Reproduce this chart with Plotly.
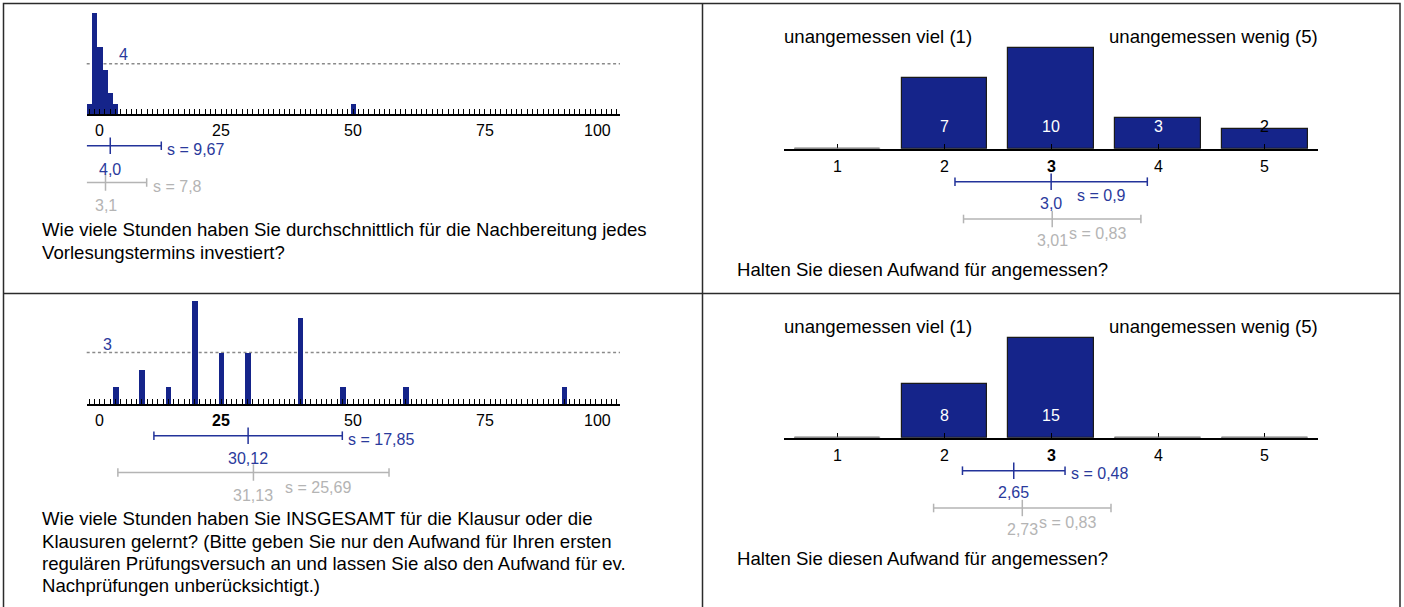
import plotly.graph_objects as go

W, H = 1404, 607

# ---------------- data ----------------
# Panel 1: hours per lecture (histogram)
p1_hours = [0, 1, 2, 3, 4, 5, 50]
p1_counts = [0.8, 8.0, 5.3, 3.5, 1.7, 0.8, 0.8]
p1_ref = 4
p1_mean, p1_sd, p1_mean_lbl, p1_sd_lbl = 4.0, 9.67, "4,0", "s = 9,67"
p1_cmean, p1_csd, p1_cmean_lbl, p1_csd_lbl = 3.1, 7.8, "3,1", "s = 7,8"
p1_question = ["Wie viele Stunden haben Sie durchschnittlich für die Nachbereitung jedes",
               "Vorlesungstermins investiert?"]

# Panel 3: total hours for exam (histogram)
p3_hours = [5, 10, 15, 20, 25, 30, 40, 48, 60, 90]
p3_counts = [1, 2, 1, 6, 3, 3, 5, 1, 1, 1]
p3_ref = 3
p3_mean, p3_sd, p3_mean_lbl, p3_sd_lbl = 30.12, 17.85, "30,12", "s = 17,85"
p3_cmean, p3_csd, p3_cmean_lbl, p3_csd_lbl = 31.13, 25.69, "31,13", "s = 25,69"
p3_question = ["Wie viele Stunden haben Sie INSGESAMT für die Klausur oder die",
               "Klausuren gelernt? (Bitte geben Sie nur den Aufwand für Ihren ersten",
               "regulären Prüfungsversuch an und lassen Sie also den Aufwand für ev.",
               "Nachprüfungen unberücksichtigt.)"]

hist_ticks = [0, 25, 50, 75, 100]
p1_bold_tick = None
p3_bold_tick = 25

# Panels 2 & 4: rating scale
scale_cats = [1, 2, 3, 4, 5]
scale_left = "unangemessen viel (1)"
scale_right = "unangemessen wenig (5)"
p2_counts = [0, 7, 10, 3, 2]
p2_mean, p2_sd, p2_mean_lbl, p2_sd_lbl = 3.0, 0.9, "3,0", "s = 0,9"
p2_cmean, p2_csd, p2_cmean_lbl, p2_csd_lbl = 3.01, 0.83, "3,01", "s = 0,83"
p4_counts = [0, 8, 15, 0, 0]
p4_mean, p4_sd, p4_mean_lbl, p4_sd_lbl = 2.65, 0.48, "2,65", "s = 0,48"
p4_cmean, p4_csd, p4_cmean_lbl, p4_csd_lbl = 2.73, 0.83, "2,73", "s = 0,83"
scale_bold_tick = 3
scale_question = "Halten Sie diesen Aufwand für angemessen?"

# ---------------- style ----------------
NAVY = "#15248a"
BLUE = "#2a3a9c"
GREY = "#b4b4b4"
FONT = "Liberation Sans, Arial, sans-serif"
FS_Q = 18.6
FS_S = 16


def px(x):
    return x / W


def py(y):
    return 1 - y / H


fig = go.Figure()
shapes = []
annos = []


def text(x, y, s, size=FS_S, color="black", xanchor="left", xref="paper", xshift=0):
    annos.append(dict(x=x if xref != "paper" else px(x), y=py(y), xref=xref, yref="paper",
                      text=s, showarrow=False, xanchor=xanchor, yanchor="middle",
                      xshift=xshift, font=dict(family=FONT, size=size, color=color)))


def sd_bar(xref, mean, sd, ly, color, rng, cap=4.3, tick=8.2):
    x0 = max(mean - sd, rng[0])
    x1 = min(mean + sd, rng[1])
    line = dict(color=color, width=1.5)
    shapes.append(dict(type="line", xref=xref, yref="paper", x0=x0, x1=x1,
                       y0=py(ly), y1=py(ly), line=line))
    if mean - sd >= rng[0]:
        shapes.append(dict(type="line", xref=xref, yref="paper", x0=x0, x1=x0,
                           y0=py(ly - cap), y1=py(ly + cap), line=line))
    if mean + sd <= rng[1]:
        shapes.append(dict(type="line", xref=xref, yref="paper", x0=x1, x1=x1,
                           y0=py(ly - cap), y1=py(ly + cap), line=line))
    shapes.append(dict(type="line", xref=xref, yref="paper", x0=mean, x1=mean,
                       y0=py(ly - tick), y1=py(ly + tick), line=line))


# geometry for histograms
H_X0, H_X1 = 86.7, 620.0
H_ZERO, H_UNIT = 89.15, 5.2775
h_range = [(H_X0 - H_ZERO) / H_UNIT, (H_X1 - H_ZERO) / H_UNIT]
# geometry for scales
S_X0, S_X1 = 784.0, 1318.3
s_range = [0.5, 5.5]


def hist_panel(idx, hours, counts, ref, base, unit, top, bar_w, ref_lbl_x, ref_lbl_y,
               tick_y, bold, mean, sd, mlbl, slbl, cmean, csd, cmlbl, cslbl,
               cs_below_shift, question, q_y):
    xa = "xaxis" + ("" if idx == 1 else str(idx))
    ya = "yaxis" + ("" if idx == 1 else str(idx))
    xr = "x" + ("" if idx == 1 else str(idx))
    yr = "y" + ("" if idx == 1 else str(idx))
    fig.add_trace(go.Bar(x=hours, y=counts, width=bar_w, marker=dict(color=NAVY, line=dict(width=0)),
                         xaxis=xr, yaxis=yr, showlegend=False, hoverinfo="skip"))
    fig.update_layout({
        xa: dict(domain=[px(H_X0), px(H_X1)], range=h_range, anchor=yr, showline=True,
                 linecolor="black", linewidth=1.8, ticks="inside", tick0=0, dtick=1,
                 ticklen=5, tickwidth=1.4, tickcolor="black", showticklabels=False,
                 showgrid=False, zeroline=False, fixedrange=True),
        ya: dict(domain=[py(base), py(top)], range=[0, (base - top) / unit], anchor=xr,
                 visible=False, fixedrange=True),
    })
    shapes.append(dict(type="line", xref=xr + " domain", yref=yr, x0=0, x1=1, y0=ref, y1=ref,
                       line=dict(color="#8a8a8a", width=1.5, dash="3px,2.6px"), layer="below"))
    text(ref_lbl_x, ref_lbl_y, str(ref), color=BLUE)
    for t in hist_ticks:
        lbl = "<b>%d</b>" % t if t == bold else str(t)
        if t == hist_ticks[0]:
            text(t, tick_y, lbl, xref=xr, xanchor="left", xshift=4)
        elif t == hist_ticks[-1]:
            text(t, tick_y, lbl, xref=xr, xanchor="right", xshift=-3.5)
        else:
            text(t, tick_y, lbl, xref=xr, xanchor="center")
    ly = base + 31.7
    sd_bar(xr, mean, sd, ly, "#23339a", h_range)
    text(mean, ly + 23.3, mlbl, color=BLUE, xref=xr, xanchor="center")
    text(mean + sd, ly + 3.3, slbl, color=BLUE, xref=xr, xanchor="left", xshift=3.5)
    gy = base + 68.5
    sd_bar(xr, cmean, csd, gy, GREY, h_range)
    text(cmean, gy + 22.8, cmlbl, color=GREY, xref=xr, xanchor="center")
    if cs_below_shift is None:
        text(cmean + csd, gy + 3.8, cslbl, color=GREY, xref=xr, xanchor="left", xshift=4)
    else:
        text(cmean, gy + 15.2, cslbl, color=GREY, xref=xr, xanchor="left", xshift=cs_below_shift)
    for i, line in enumerate(question):
        text(40, q_y + i * 22.3, line, size=FS_Q)


def scale_panel(idx, counts, base, unit, top, head_y, tick_y, mean, sd, mlbl, slbl,
                s_right, s_shift, s_dy, cmean, csd, cmlbl, cslbl, cs_shift, q_y):
    xa = "xaxis" + str(idx)
    ya = "yaxis" + str(idx)
    xr = "x" + str(idx)
    yr = "y" + str(idx)
    fig.add_trace(go.Bar(x=scale_cats, y=counts, width=0.8,
                         marker=dict(color=NAVY, line=dict(color="#1a1a1a", width=1.2)),
                         xaxis=xr, yaxis=yr, showlegend=False, hoverinfo="skip"))
    fig.update_layout({
        xa: dict(domain=[px(S_X0), px(S_X1)], range=s_range, anchor=yr, showline=True,
                 linecolor="black", linewidth=1.8, ticks="inside", tickvals=scale_cats,
                 ticklen=5, tickwidth=1.2, tickcolor="black", showticklabels=False,
                 showgrid=False, zeroline=False, fixedrange=True),
        ya: dict(domain=[py(base), py(top)], range=[0, (base - top) / unit], anchor=xr,
                 visible=False, fixedrange=True),
    })
    for c, n in zip(scale_cats, counts):
        if n == 0:
            shapes.append(dict(type="line", xref=xr, yref=yr, x0=c - 0.4, x1=c + 0.4, y0=0, y1=0,
                               line=dict(color="#a0a0a0", width=2)))
        col = "white" if n * unit > 25 else "black"
        if n > 0:
            text(c, base - 22.7, str(n), color=col, xref=xr, xanchor="center")
        lbl = "<b>%d</b>" % c if c == scale_bold_tick else str(c)
        text(c, tick_y, lbl, xref=xr, xanchor="center")
    text(782, head_y, scale_left, size=FS_Q)
    text(S_X1 + 1.5, head_y, scale_right, size=FS_Q, xanchor="right")
    ly = base + 33
    sd_bar(xr, mean, sd, ly, "#23339a", s_range)
    text(mean, ly + 22, mlbl, color=BLUE, xref=xr, xanchor="center")
    if s_right:
        text(mean + sd, ly + s_dy, slbl, color=BLUE, xref=xr, xanchor="left", xshift=3.5)
    else:
        text(mean, ly + s_dy, slbl, color=BLUE, xref=xr, xanchor="left", xshift=s_shift)
    gy = base + 70.3
    sd_bar(xr, cmean, csd, gy, GREY, s_range)
    text(cmean, gy + 21.5, cmlbl, color=GREY, xref=xr, xanchor="center")
    text(cmean, gy + 14.2, cslbl, color=GREY, xref=xr, xanchor="left", xshift=cs_shift)
    text(735, q_y, scale_question, size=FS_Q)


hist_panel(1, p1_hours, p1_counts, p1_ref, 114.0, 12.575, 10.0, 0.97, 116.7, 54.5,
           131.0, p1_bold_tick, p1_mean, p1_sd, p1_mean_lbl, p1_sd_lbl,
           p1_cmean, p1_csd, p1_cmean_lbl, p1_csd_lbl, None, p1_question, 230.0)
hist_panel(3, p3_hours, p3_counts, p3_ref, 404.0, 17.15, 296.0, 1.06, 100.7, 344.5,
           420.0, p3_bold_tick, p3_mean, p3_sd, p3_mean_lbl, p3_sd_lbl,
           p3_cmean, p3_csd, p3_cmean_lbl, p3_csd_lbl, 30, p3_question, 518.8)
scale_panel(2, p2_counts, 148.7, 10.1, 40.0, 37.0, 166.0, p2_mean, p2_sd, p2_mean_lbl,
            p2_sd_lbl, False, 24, 13.3, p2_cmean, p2_csd, p2_cmean_lbl, p2_csd_lbl, 15, 270.0)
scale_panel(4, p4_counts, 437.7, 6.67, 330.0, 326.0, 455.7, p4_mean, p4_sd, p4_mean_lbl,
            p4_sd_lbl, True, 0, 2.6, p4_cmean, p4_csd, p4_cmean_lbl, p4_csd_lbl, 15, 558.6)

# table borders
bcol = dict(color="#2b2b2b", width=1.5)
shapes.append(dict(type="rect", xref="paper", yref="paper", x0=px(3.5), x1=px(1400),
                   y0=py(620), y1=py(3.5), line=bcol, fillcolor="rgba(0,0,0,0)"))
shapes.append(dict(type="line", xref="paper", yref="paper", x0=px(702.5), x1=px(702.5),
                   y0=py(620), y1=py(3.5), line=bcol))
shapes.append(dict(type="line", xref="paper", yref="paper", x0=px(3.5), x1=px(1400),
                   y0=py(293.5), y1=py(293.5), line=bcol))

fig.update_layout(width=W, height=H, margin=dict(l=0, r=0, t=0, b=0),
                  paper_bgcolor="white", plot_bgcolor="rgba(0,0,0,0)",
                  shapes=shapes, annotations=annos, bargap=0, showlegend=False,
                  font=dict(family=FONT))

fig.write_html("out.html", config={"displayModeBar": False},
               post_script="document.body.style.margin='0px';document.body.style.overflow='hidden';")
